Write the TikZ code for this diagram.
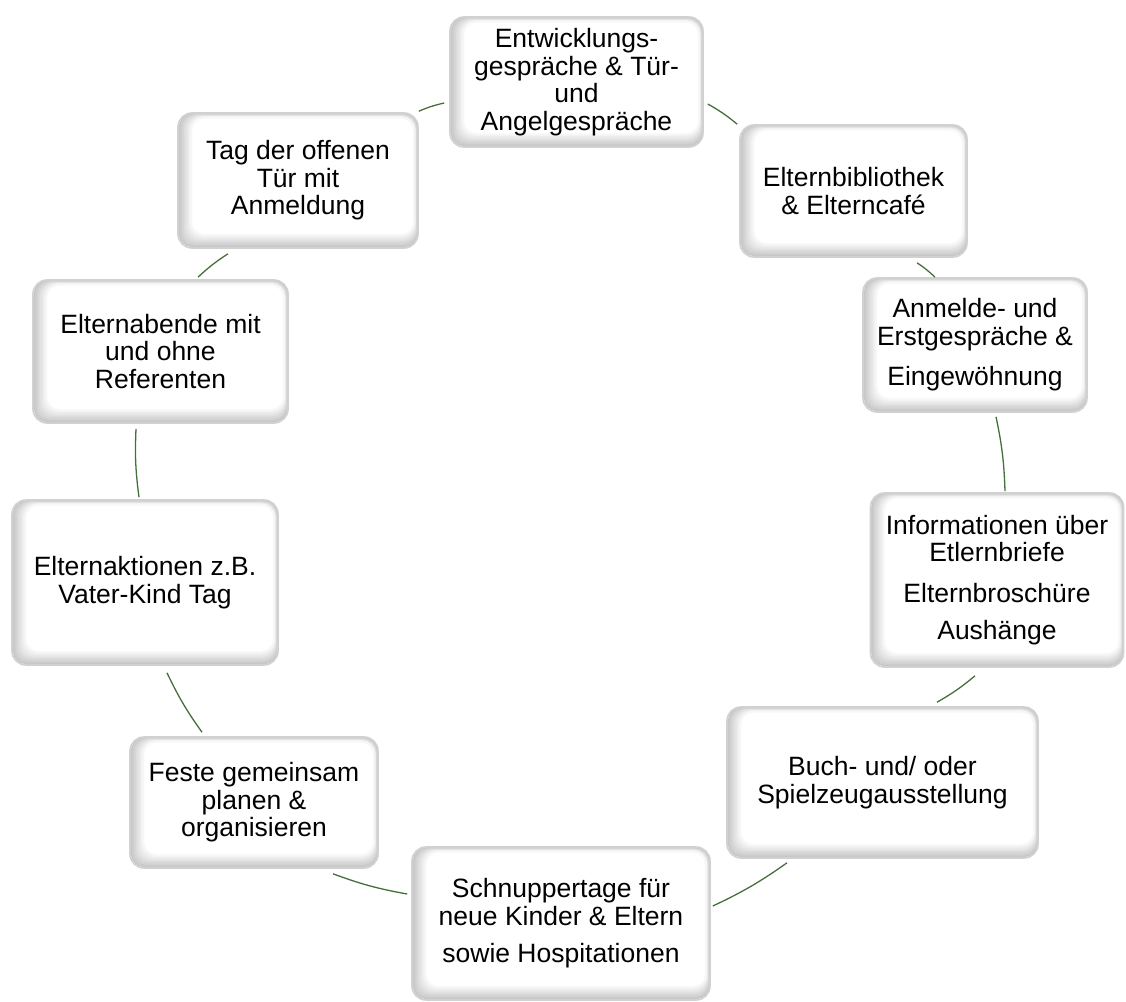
\documentclass[tikz,border=0pt]{standalone}
\usepackage{fontspec}
\setmainfont{Liberation Sans}
\usetikzlibrary{calc}
\definecolor{conncol}{HTML}{45703A}
\tikzset{
  boxc/.style={rounded corners=14pt, draw=black!18, line width=1.6pt, fill=white,
    align=center, inner sep=0pt, font=\fontsize{26.5}{27.5}\selectfont,
    path picture={
      \foreach \i [evaluate=\i as \c using 22-2.1*\i] in {0,...,9}{
        \draw[draw=black!\c, line width=1.8pt, rounded corners=13pt]
          ([xshift=1.6pt+1.3pt*\i, yshift=1.6pt+1.25pt*\i]path picture bounding box.south west) rectangle
          ([xshift=-1.3pt-0.3pt*\i, yshift=-1.3pt-0.35pt*\i]path picture bounding box.north east);
      }
    }},
  conn/.style={draw=conncol, line width=1.3pt, bend left=5}
}
\begin{document}
\begin{tikzpicture}[x=1pt, y=-1pt]
\useasboundingbox (0,0) rectangle (1126,1001);

\node[boxc, minimum width=253pt, minimum height=130pt] (b1) at (576.5,82)
  {Entwicklungs-\\gespräche \& Tür-\\und\\Angelgespräche};
\node[boxc, minimum width=240pt, minimum height=135pt] (b2) at (298,180.5)
  {Tag der offenen\\Tür mit\\Anmeldung};
\node[boxc, minimum width=227pt, minimum height=132pt] (b3) at (853.5,191)
  {Elternbibliothek\\\& Elterncafé};
\node[boxc, minimum width=255pt, minimum height=143pt] (b4) at (160.5,351.5)
  {Elternabende mit\\und ohne\\Referenten};
\node[boxc, minimum width=224pt, minimum height=134pt] (b5) at (975,345)
  {Anmelde- und\\Erstgespräche \&\\[13pt]Eingewöhnung};
\node[boxc, minimum width=266pt, minimum height=165pt] (b6) at (145,582.5)
  {Elternaktionen z.B.\\Vater-Kind Tag};
\node[boxc, minimum width=253pt, minimum height=174pt] (b7) at (997,580)
  {Informationen über\\Etlernbriefe\\[13pt]Elternbroschüre\\[10pt]Aushänge};
\node[boxc, minimum width=311pt, minimum height=151pt] (b8) at (882.5,782.5)
  {Buch- und/ oder\\Spielzeugausstellung};
\node[boxc, minimum width=248pt, minimum height=131pt] (b9) at (254,802.5)
  {Feste gemeinsam\\planen \&\\organisieren};
\node[boxc, minimum width=298pt, minimum height=153pt] (b10) at (561,923.5)
  {Schnuppertage für\\neue Kinder \& Eltern\\[10pt]sowie Hospitationen};

% connectors, clockwise
\draw[conn] ($(b1.east)+(4,22)$) to ($(b3.north west)+(-2,0)$);
\draw[conn] ($(b3.south)+(63.5,5)$) to ($(b5.north)+(-40,0)$);
\draw[conn] ($(b5.south)+(21,4)$) to ($(b7.north)+(8,-1)$);
\draw[conn] ($(b7.south)+(-22,8)$) to ($(b8.north)+(54.5,-4)$);
\draw[conn] ($(b8.south)+(-95.5,4)$) to ($(b10.east)+(2,-17.5)$);
\draw[conn] ($(b10.west)+(-4,-29.5)$) to ($(b9.south)+(79,5)$);
\draw[conn] ($(b9.north)+(-52,-4)$) to ($(b6.south)+(22,7)$);
\draw[conn] ($(b6.north)+(-6,-2)$) to ($(b4.south)+(-24.5,5)$);
\draw[conn] ($(b4.north)+(37.5,-2)$) to ($(b2.south)+(-70,5)$);
\draw[conn] ($(b2.north east)+(0,-1)$) to ($(b1.west)+(-5,21)$);
\end{tikzpicture}
\end{document}
